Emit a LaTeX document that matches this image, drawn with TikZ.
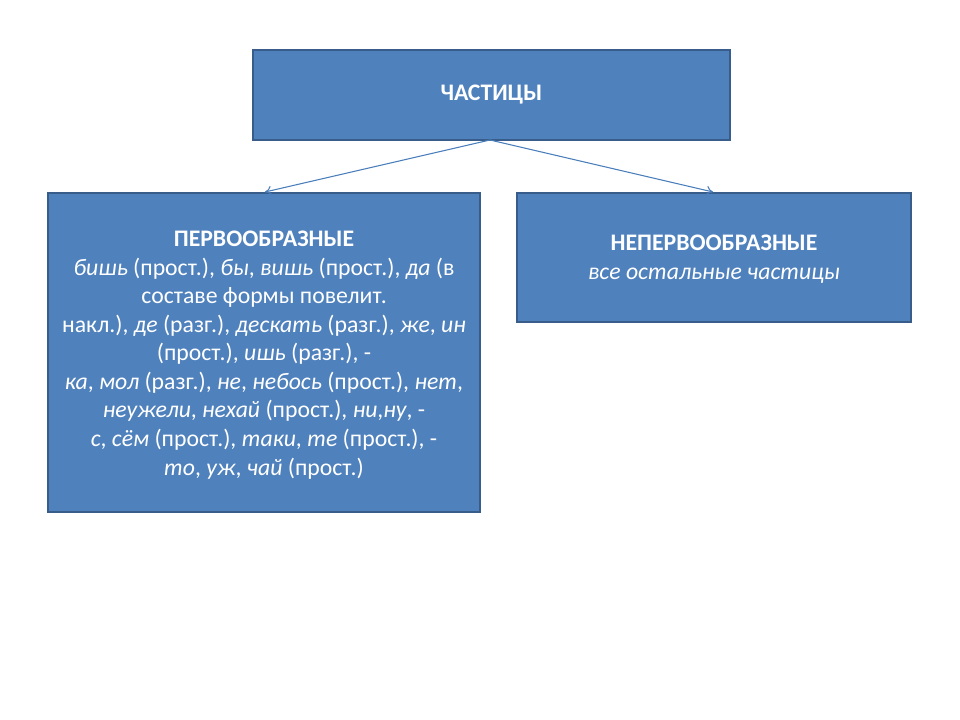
\documentclass[tikz,border=0pt]{standalone}
\usepackage{fontspec}
\setmainfont{Carlito}
\usetikzlibrary{arrows.meta}
\definecolor{boxfill}{HTML}{4F81BD}
\definecolor{boxline}{HTML}{385D8A}
\definecolor{arrowc}{HTML}{4A7EBB}
\tikzset{
  box/.style={draw=boxline, line width=1.5pt, fill=boxfill, text=white, inner sep=0pt, align=center},
  conn/.style={draw=arrowc, line width=0.8pt, -{To[length=5pt,width=7pt]}},
  txt/.style={font=\fontsize{17.8pt}{21.4pt}\selectfont}
}
\begin{document}
\begin{tikzpicture}[x=0.75pt,y=-0.75pt]
\useasboundingbox (0,0) rectangle (960,720);
\node[box, minimum width=477*0.75pt, minimum height=90*0.75pt, font=\fontsize{17.8pt}{21.4pt}\selectfont\bfseries] (top) at (491.5,95) {ЧАСТИЦЫ};
\node[box, minimum width=432*0.75pt, minimum height=319*0.75pt] (left) at (264,352.5) {};
\node[txt, text=white, align=center, inner sep=0pt] (lefttext) at (264,355) {\textbf{ПЕРВООБРАЗНЫЕ}\\
\textit{бишь} (прост.), \textit{бы}, \textit{вишь} (прост.), \textit{да} (в\\
составе формы повелит.\\
накл.), \textit{де} (разг.), \textit{дескать} (разг.), \textit{же}, \textit{ин}\\
(прост.), \textit{ишь} (разг.), -\\
\textit{ка}, \textit{мол} (разг.), \textit{не}, \textit{небось} (прост.), \textit{нет},\\
\textit{неужели}, \textit{нехай} (прост.), \textit{ни},\textit{ну}, -\\
\textit{с}, \textit{сём} (прост.), \textit{таки}, \textit{те} (прост.), -\\
\textit{то}, \textit{уж}, \textit{чай} (прост.)};
\node[box, minimum width=394*0.75pt, minimum height=129*0.75pt] (right) at (714,257.5) {};
\node[txt, text=white, align=center, inner sep=0pt] (righttext) at (714,259) {\textbf{НЕПЕРВООБРАЗНЫЕ}\\
\textit{все остальные частицы}};
\coordinate (src) at (490,140);
\coordinate (tl) at (265,192);
\coordinate (tr) at (713,192);
\draw[conn] (src) -- (tl);
\draw[conn] (src) -- (tr);
\end{tikzpicture}
\end{document}
